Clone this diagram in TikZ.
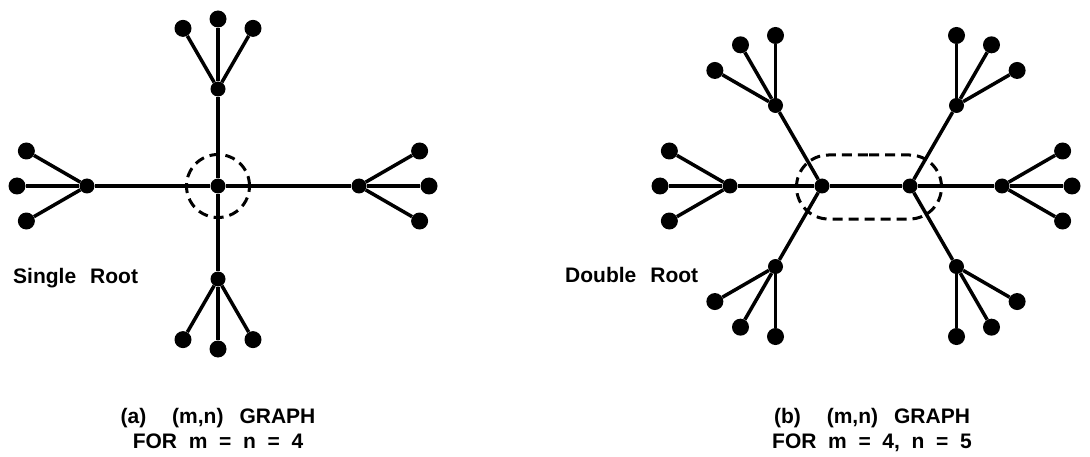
\documentclass[tikz,border=0pt]{standalone}
\usepackage{fontspec}
\setmainfont{Liberation Sans}
\usepackage{tikz}
\usetikzlibrary{shapes.misc}

\begin{document}
\begin{tikzpicture}[
x=1pt, y=1pt,
sibling distance=0pt,
level 1/.style={level distance=93pt},
level 2/.style={level distance=70pt},
edge from parent/.style={draw, line width=3.5pt},
hub/.style={circle, fill, inner sep=0pt, minimum size=15pt},
leaf/.style={circle, fill, inner sep=0pt, minimum size=17pt},
encl/.style={draw, line width=3pt, dash pattern=on 10pt off 6pt, inner sep=0pt},
lbl/.style={inner sep=0pt, font=\fontsize{21}{25}\selectfont\bfseries}]

\useasboundingbox (0,0) rectangle (1090,456);

\node[hub] (ra) at (218,270) {}
child[grow=90, level distance=97pt] {node[hub] (ta) {}
    child[grow=120] {node[leaf] (ta1) {}}
    child[grow=90] {node[leaf] (ta2) {}}
    child[grow=60] {node[leaf] (ta3) {}}
}
child[grow=180, level distance=131pt] {node[hub] (la) {}
    child[grow=150] {node[leaf] (la1) {}}
    child[grow=180] {node[leaf] (la2) {}}
    child[grow=210] {node[leaf] (la3) {}}
}
child[grow=0, level distance=141pt] {node[hub] (rta) {}
    child[grow=30] {node[leaf] (rta1) {}}
    child[grow=0] {node[leaf] (rta2) {}}
    child[grow=-30] {node[leaf] (rta3) {}}
}
child[grow=-90, level distance=93pt] {node[hub] (ba) {}
    child[grow=240] {node[leaf] (ba1) {}}
    child[grow=270] {node[leaf] (ba2) {}}
    child[grow=300] {node[leaf] (ba3) {}}
};

\node[encl, circle, minimum size=63pt] (ringa) at (ra) {};

\node[hub] (rl) at (822,270) {}
child[grow=180, level distance=92pt] {node[hub] (lb) {}
    child[grow=150] {node[leaf] (lb1) {}}
    child[grow=180] {node[leaf] (lb2) {}}
    child[grow=210] {node[leaf] (lb3) {}}
}
child[grow=120] {node[hub] (ulb) {}
    child[grow=150] {node[leaf] (ulb1) {}}
    child[grow=120] {node[leaf] (ulb2) {}}
    child[grow=90] {node[leaf] (ulb3) {}}
}
child[grow=240] {node[hub] (llb) {}
    child[grow=210] {node[leaf] (llb1) {}}
    child[grow=240] {node[leaf] (llb2) {}}
    child[grow=270] {node[leaf] (llb3) {}}
};

\node[hub] (rr) at (910,270) {}
child[grow=0, level distance=92pt] {node[hub] (rb) {}
    child[grow=30] {node[leaf] (rb1) {}}
    child[grow=0] {node[leaf] (rb2) {}}
    child[grow=-30] {node[leaf] (rb3) {}}
}
child[grow=60] {node[hub] (urb) {}
    child[grow=90] {node[leaf] (urb1) {}}
    child[grow=60] {node[leaf] (urb2) {}}
    child[grow=30] {node[leaf] (urb3) {}}
}
child[grow=-60] {node[hub] (lrb) {}
    child[grow=-90] {node[leaf] (lrb1) {}}
    child[grow=-60] {node[leaf] (lrb2) {}}
    child[grow=-30] {node[leaf] (lrb3) {}}
};

\draw[line width=3.5pt] (rl) -- (rr);

\node[encl, rounded rectangle, minimum width=145pt, minimum height=64pt] (ringb) at (869,269) {};

\node[lbl, anchor=base west] (sroot) at (13,173) {Single\hspace{14pt}Root};
\node[lbl, anchor=base west] (droot) at (565,174) {Double\hspace{14pt}Root};

\node[lbl, align=center, anchor=north] (capa) at (218,48)
    {(a)\hspace{26pt}(m,n)\hspace{16pt}GRAPH\\FOR\ \ m\ \ =\ \ n\ \ =\ \ 4};
\node[lbl, align=center, anchor=north] (capb) at (872,48)
    {(b)\hspace{26pt}(m,n)\hspace{16pt}GRAPH\\FOR\ \ m\ \ =\ \ 4,\ \ n\ \ =\ \ 5};
\end{tikzpicture}
\end{document}
